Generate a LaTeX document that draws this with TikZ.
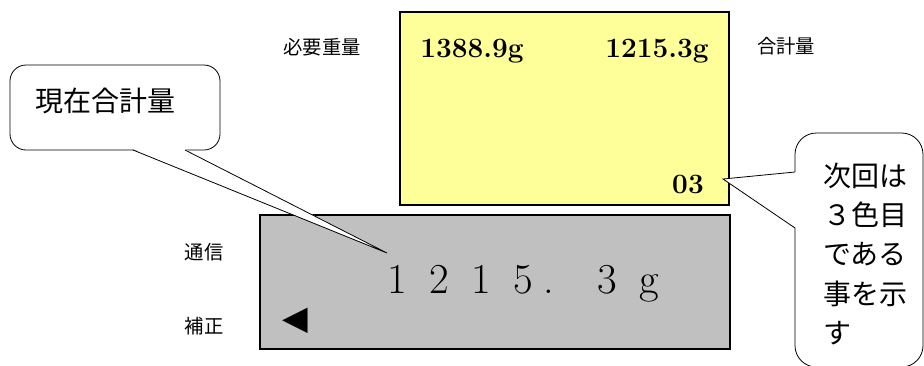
\documentclass[tikz,border=0pt]{standalone}
\usepackage{fontspec}
\newfontfamily\jpfont{Noto Sans CJK JP}
\newfontfamily\symfont{DejaVu Sans}
\usetikzlibrary{positioning}
\definecolor{lcdyellow}{RGB}{255,255,153}
\definecolor{lcdgray}{RGB}{192,192,192}
\newcommand{\wcell}[1]{\makebox[31.5pt]{#1}}

\begin{document}
\begin{tikzpicture}[
  x=0.75pt, y=-0.75pt,
  screen/.style={draw, line width=0.8pt, inner sep=0},
  tag/.style={font=\jpfont\fontsize{14.5}{17}\selectfont, inner sep=0},
  value/.style={font=\bfseries\fontsize{21}{25}\selectfont, inner sep=0, anchor=base},
  bubble/.style={draw, fill=white, line width=0.6pt},
  note/.style={font=\jpfont\fontsize{21}{29.6}\selectfont, inner sep=0, align=left}
]
\useasboundingbox (0,0) rectangle (924,365);
% display panels
\node[screen, fill=lcdyellow, minimum width=246.75pt, minimum height=144.75pt] (upper) at (564.5,108.5) {};
\node[screen, fill=lcdgray, minimum width=352.5pt, minimum height=100.5pt] (lower) at (495,282) {};
% side labels
\node[tag] (need) at (322,47) {必要重量};
\node[tag] (total) at (786,46) {合計量};
\node[tag] (comm) at (204,252) {通信};
\node[tag] (corr) at (204,326) {補正};
% readings
\node[value] (needval) at (472,57) {1388.9g};
\node[value] (totalval) at (657,57) {1215.3g};
\node[value] (color) at (688,193) {03};
\node[inner sep=0, anchor=base, font=\fontsize{32}{38}\selectfont] (reading) at (523,293)
  {\wcell{1}\wcell{2}\wcell{1}\wcell{5}\makebox[31.5pt][l]{.}\wcell{3}\wcell{g}};
\node[inner sep=0, font=\symfont\fontsize{25}{29}\selectfont] (arrowmark) at (295,321) {◀};
% callout: current total
\coordinate (tip1) at (387,253);
\draw[bubble, rounded corners=12pt] (10,65) rectangle (220,150);
\fill[white] (133,149) -- (tip1) -- (185,149) -- cycle;
\draw[line width=0.6pt] (133,150) -- (tip1) -- (185,150);
\node[note] (nowtotal) at (105,101) {現在合計量};
% callout: next colour
\coordinate (tip2) at (723,179);
\draw[bubble, rounded corners=16pt] (795,133) rectangle (923,367);
\fill[white] (796,172) -- (tip2) -- (796,228) -- cycle;
\draw[line width=0.6pt] (795,172) -- (tip2) -- (795,228);
\node[note] (nextcol) at (865,254) {次回は\\３色目\\である\\事を示\\す};
\end{tikzpicture}
\end{document}
